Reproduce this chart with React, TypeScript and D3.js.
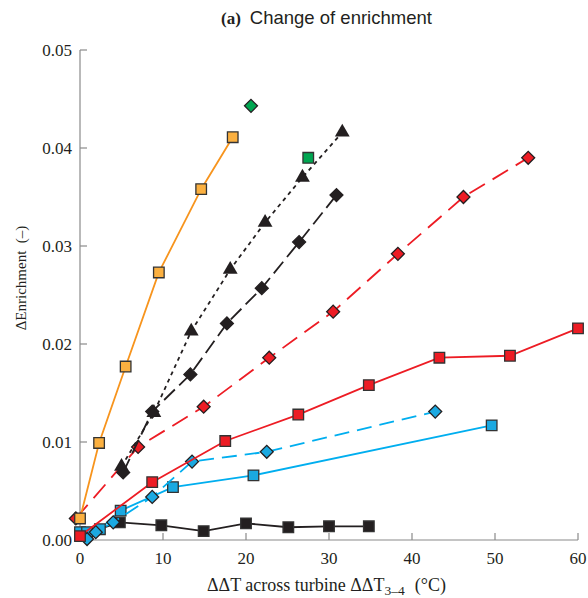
import React from "react";
import * as d3 from "d3";

const xTicks = [0, 10, 20, 30, 40, 50, 60];
const yTicks = [0, 0.01, 0.02, 0.03, 0.04, 0.05];

const orangeX = [0, 2.3, 5.5, 9.5, 14.6, 18.4];
const orangeY = [0.0022, 0.0099, 0.0177, 0.0273, 0.0358, 0.0411];

const greenDiamondX = [20.6];
const greenDiamondY = [0.0443];
const greenSquareX = [27.5];
const greenSquareY = [0.039];

const triX = [5.0, 8.9, 13.4, 18.1, 22.3, 26.8, 31.6];
const triY = [0.0075, 0.013, 0.0213, 0.0276, 0.0324, 0.037, 0.0416];

const blkDiaX = [5.2, 8.7, 13.3, 17.7, 21.9, 26.4, 30.9];
const blkDiaY = [0.0069, 0.0131, 0.0169, 0.0221, 0.0257, 0.0304, 0.0352];

const redDiaX = [-0.5, 7.0, 14.9, 22.8, 30.5, 38.3, 46.2, 54.0];
const redDiaY = [0.0022, 0.0095, 0.0136, 0.0186, 0.0233, 0.0292, 0.035, 0.039];

const redSqX = [0, 8.7, 17.5, 26.3, 34.8, 43.3, 51.8, 60];
const redSqY = [0.0004, 0.0059, 0.0101, 0.0128, 0.0158, 0.0186, 0.0188, 0.0216];

const blueSqX = [0, 0.85, 2.4, 4.9, 11.2, 20.9, 49.6];
const blueSqY = [0.0008, 0.0008, 0.0011, 0.003, 0.0054, 0.0066, 0.0117];

const blueDiaX = [0.85, 1.9, 4.0, 8.7, 13.5, 22.5, 42.8];
const blueDiaY = [0.0001, 0.0008, 0.0018, 0.0044, 0.008, 0.009, 0.0131];

const blkSqX = [0, 4.8, 9.8, 14.9, 20.0, 25.1, 30.0, 34.8];
const blkSqY = [0.0005, 0.0018, 0.0015, 0.0009, 0.0017, 0.0013, 0.0014, 0.0014];

type Series = {
  xs: number[];
  ys: number[];
  line: string | null;
  dash: string | null;
  fill: string;
  marker: "square" | "diamond" | "triangle";
};

const series: Series[] = [
  { xs: blkSqX, ys: blkSqY, line: "#231f20", dash: null, fill: "#231f20", marker: "square" },
  { xs: blueSqX, ys: blueSqY, line: "#00aeef", dash: null, fill: "#1ba9e1", marker: "square" },
  { xs: blueDiaX, ys: blueDiaY, line: "#00aeef", dash: "15 8", fill: "#1ba9e1", marker: "diamond" },
  { xs: redSqX, ys: redSqY, line: "#ed1c24", dash: null, fill: "#ed1c24", marker: "square" },
  { xs: redDiaX, ys: redDiaY, line: "#ed1c24", dash: "18 9", fill: "#ed1c24", marker: "diamond" },
  { xs: blkDiaX, ys: blkDiaY, line: "#231f20", dash: "15 6", fill: "#231f20", marker: "diamond" },
  { xs: triX, ys: triY, line: "#231f20", dash: "4 4", fill: "#231f20", marker: "triangle" },
  { xs: orangeX, ys: orangeY, line: "#f7941d", dash: null, fill: "#fbb040", marker: "square" },
  { xs: greenSquareX, ys: greenSquareY, line: null, dash: null, fill: "#00a651", marker: "square" },
  { xs: greenDiamondX, ys: greenDiamondY, line: null, dash: null, fill: "#00a651", marker: "diamond" },
];

const W = 588;
const H = 598;

export default function App() {
  const x = d3.scaleLinear().domain([0, 60]).range([80, 578]);
  const y = d3.scaleLinear().domain([0, 0.05]).range([540, 50]);
  const lineGen = d3
    .line<[number, number]>()
    .x((d) => x(d[0]))
    .y((d) => y(d[1]));
  const sq = d3.symbol().type(d3.symbolSquare).size(112)()!;
  const dia = d3.symbol().type(d3.symbolSquare).size(84)()!;
  const tri = d3.symbol().type(d3.symbolTriangle).size(95)()!;
  const axisColor = "#8a8a8a";
  const serif = "'Liberation Serif', 'Times New Roman', serif";
  const sans = "'Liberation Sans', Arial, sans-serif";

  return (
    <svg
      width={W}
      height={H}
      style={{ position: "absolute", left: 0, top: 0, background: "#fff" }}
    >
      {/* axes */}
      <line x1={x(0)} x2={x(0)} y1={y(0.05)} y2={y(0)} stroke={axisColor} strokeWidth={1.2} />
      <line x1={x(0)} x2={x(60)} y1={y(0)} y2={y(0)} stroke={axisColor} strokeWidth={1.2} />
      {xTicks.map((t) => (
        <g key={"xt" + t}>
          {t > 0 && (
            <line x1={x(t)} x2={x(t)} y1={y(0)} y2={y(0) - 7} stroke={axisColor} strokeWidth={1.2} />
          )}
          <text x={x(t)} y={564} textAnchor="middle" fontFamily={serif} fontSize={17} fill="#231f20">
            {t}
          </text>
        </g>
      ))}
      {yTicks.map((t) => (
        <g key={"yt" + t}>
          {t > 0 && (
            <line x1={x(0)} x2={x(0) + 7} y1={y(t)} y2={y(t)} stroke={axisColor} strokeWidth={1.2} />
          )}
          <text x={72} y={y(t) + 6} textAnchor="end" fontFamily={serif} fontSize={17} fill="#231f20">
            {t.toFixed(2)}
          </text>
        </g>
      ))}

      {/* series */}
      {series.map((s, i) => {
        const pts: [number, number][] = s.xs.map((v, j) => [v, s.ys[j]]);
        return (
          <g key={"s" + i}>
            {s.line && pts.length > 1 && (
              <path
                d={lineGen(pts)!}
                fill="none"
                stroke={s.line}
                strokeWidth={1.8}
                strokeDasharray={s.dash ?? undefined}
              />
            )}
            {pts.map((p, j) => {
              const cx = x(p[0]);
              const cy = y(p[1]);
              if (s.marker === "square")
                return (
                  <path
                    key={j}
                    d={sq}
                    transform={`translate(${cx},${cy})`}
                    fill={s.fill}
                    stroke="#333"
                    strokeWidth={1.3}
                  />
                );
              if (s.marker === "diamond")
                return (
                  <path
                    key={j}
                    d={dia}
                    transform={`translate(${cx},${cy}) rotate(45)`}
                    fill={s.fill}
                    stroke="#231f20"
                    strokeWidth={1.3}
                  />
                );
              return (
                <path key={j} d={tri} transform={`translate(${cx},${cy})`} fill={s.fill} stroke="none" />
              );
            })}
          </g>
        );
      })}

      {/* title */}
      <text x={221} y={24} fill="#231f20">
        <tspan fontFamily={serif} fontWeight="bold" fontSize={17}>(a)</tspan>
        <tspan fontFamily={sans} fontSize={18.5} dx={9}>Change of enrichment</tspan>
      </text>

      {/* x-axis title */}
      <text x={207} y={591} fontFamily={serif} fontSize={18} fill="#231f20">
        ΔΔT across turbine ΔΔT
        <tspan fontSize={13.5} dy={4}>3–4</tspan>
        <tspan dy={-4} dx={10}>(°C)</tspan>
      </text>

      {/* y-axis title */}
      <text
        transform="translate(26,278) rotate(-90)"
        textAnchor="middle"
        fontFamily={serif}
        fontSize={15}
        fill="#231f20"
      >
        {"ΔEnrichment\u00a0\u00a0(–)"}
      </text>
    </svg>
  );
}
